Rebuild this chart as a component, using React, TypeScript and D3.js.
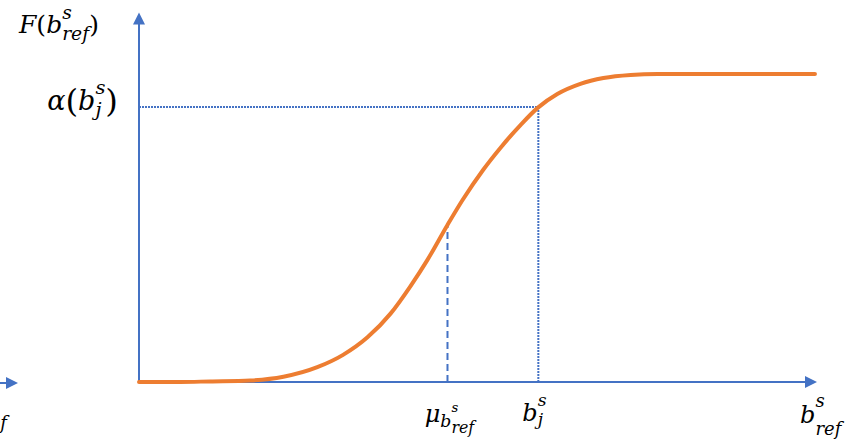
import React, { useEffect, useRef } from "react";
import * as d3 from "d3";

const W = 856;
const H = 441;

// Cumulative distribution F(b_ref^s), sampled along the S-curve
const bRef = [0, 0.61, 1.05, 1.64, 2.13, 2.63, 3.01, 3.37, 3.71, 4.0, 4.25, 4.55, 4.77, 5.08, 5.33, 5.63, 5.88, 6.17, 6.51, 6.85, 7.25, 7.65, 9.97];
const cdf = [0, 0, 0.002, 0.005, 0.017, 0.048, 0.088, 0.145, 0.222, 0.31, 0.395, 0.51, 0.59, 0.69, 0.76, 0.835, 0.89, 0.935, 0.968, 0.987, 0.997, 1, 1];

// Reference points: the mean and the observed b_j^s with its level α
const muValue = 4.55;
const muLevel = 0.51;
const bjValue = 5.89;
const alphaLevel = 0.893;

// Axis extents
const xMax = 10;
const yMax = 1.2;

const BLUE = "#4472C4";
const ORANGE = "#ED7D31";
const FONT = "'DejaVu Serif', 'Liberation Serif', serif";

type Atom = { t: string; it?: boolean; s?: number; dy?: number; stack?: boolean };

// Math-style labels: base glyphs with super/subscripts
const labelF: Atom[] = [
  { t: "F", it: true },
  { t: "(" },
  { t: "b", it: true },
  { t: "s", it: true, s: 0.75, dy: -0.55 },
  { t: "ref", it: true, s: 0.75, dy: 0.28, stack: true },
  { t: ")" },
];
const labelAlpha: Atom[] = [
  { t: "α", it: true },
  { t: "(", s: 1.2, dy: 0.07 },
  { t: "b", it: true },
  { t: "s", it: true, s: 0.72, dy: -0.6 },
  { t: "j", it: true, s: 0.72, dy: 0.22, stack: true },
  { t: ")", s: 1.2, dy: 0.07 },
];
const labelMu: Atom[] = [
  { t: "μ", it: true },
  { t: "b", it: true, s: 0.72, dy: 0.22 },
  { t: "s", it: true, s: 0.55, dy: -0.42 },
  { t: "ref", it: true, s: 0.66, dy: 0.47, stack: true },
];
const labelBj: Atom[] = [
  { t: "b", it: true },
  { t: "s", it: true, s: 0.72, dy: -0.62 },
  { t: "j", it: true, s: 0.72, dy: 0.15, stack: true },
];
const labelBref: Atom[] = [
  { t: "b", it: true },
  { t: "s", it: true, s: 0.75, dy: -0.65 },
  { t: "ref", it: true, s: 0.75, dy: 0.5, stack: true },
];

function drawLabel(
  parent: d3.Selection<SVGGElement, unknown, null, undefined>,
  atoms: Atom[],
  size: number,
  x: number,
  baseline: number,
  anchor: "start" | "middle" | "end"
) {
  const g = parent.append("g");
  let cursor = 0;
  let prevStart = 0;
  atoms.forEach((a) => {
    const start = a.stack ? prevStart : cursor;
    const txt = g
      .append("text")
      .attr("x", start)
      .attr("y", (a.dy ?? 0) * size)
      .attr("font-family", FONT)
      .attr("font-style", a.it ? "italic" : "normal")
      .attr("font-size", (a.s ?? 1) * size)
      .attr("fill", "#000")
      .text(a.t);
    const w = (txt.node() as SVGTextElement).getComputedTextLength();
    const end = start + w;
    cursor = a.stack ? Math.max(cursor, end) : end;
    prevStart = start;
  });
  const shift = anchor === "start" ? 0 : anchor === "middle" ? cursor / 2 : cursor;
  g.attr("transform", `translate(${x - shift},${baseline})`);
}

export default function App() {
  const ref = useRef<SVGSVGElement>(null);

  useEffect(() => {
    const svg = d3.select(ref.current);
    svg.selectAll("*").remove();
    const root = svg.append("g") as d3.Selection<SVGGElement, unknown, null, undefined>;

    const x = d3.scaleLinear().domain([0, xMax]).range([139, 817]);
    const y = d3.scaleLinear().domain([0, 1]).range([382, 74]);

    const x0 = x(0);
    const y0 = y(0);

    // Guide lines
    root
      .append("line")
      .attr("x1", x(muValue))
      .attr("x2", x(muValue))
      .attr("y1", y0)
      .attr("y2", y(muLevel))
      .attr("stroke", BLUE)
      .attr("stroke-width", 2)
      .attr("stroke-dasharray", "7 4");
    root
      .append("line")
      .attr("x1", x(bjValue))
      .attr("x2", x(bjValue))
      .attr("y1", y0)
      .attr("y2", y(alphaLevel))
      .attr("stroke", BLUE)
      .attr("stroke-width", 2)
      .attr("stroke-dasharray", "2 1");
    root
      .append("line")
      .attr("x1", x0)
      .attr("x2", x(bjValue))
      .attr("y1", y(alphaLevel))
      .attr("y2", y(alphaLevel))
      .attr("stroke", BLUE)
      .attr("stroke-width", 2)
      .attr("stroke-dasharray", "2 1");

    // Axes with arrowheads
    const head = 12;
    const half = 6;
    const yTop = y(yMax);
    const xEnd = x(xMax);
    root
      .append("line")
      .attr("x1", x0)
      .attr("x2", x0)
      .attr("y1", y0 + 1)
      .attr("y2", yTop + head - 1)
      .attr("stroke", BLUE)
      .attr("stroke-width", 2);
    root
      .append("path")
      .attr("d", `M${x0},${yTop}L${x0 - half},${yTop + head}L${x0 + half},${yTop + head}Z`)
      .attr("fill", BLUE);
    root
      .append("line")
      .attr("x1", x0 - 1)
      .attr("x2", xEnd - head + 1)
      .attr("y1", y0)
      .attr("y2", y0)
      .attr("stroke", BLUE)
      .attr("stroke-width", 2);
    root
      .append("path")
      .attr("d", `M${xEnd},${y0}L${xEnd - head},${y0 - half}L${xEnd - head},${y0 + half}Z`)
      .attr("fill", BLUE);

    // Tail of the neighbouring panel's horizontal axis
    const leftTip = 18;
    root
      .append("line")
      .attr("x1", 0)
      .attr("x2", leftTip - head + 1)
      .attr("y1", y0 + 1)
      .attr("y2", y0 + 1)
      .attr("stroke", BLUE)
      .attr("stroke-width", 2);
    root
      .append("path")
      .attr("d", `M${leftTip},${y0 + 1}L${leftTip - head},${y0 + 1 - half}L${leftTip - head},${y0 + 1 + half}Z`)
      .attr("fill", BLUE);

    // CDF curve
    const pts: [number, number][] = bRef.map((v, i) => [v, cdf[i]]);
    const line = d3
      .line<[number, number]>()
      .x((d) => x(d[0]))
      .y((d) => y(d[1]))
      .curve(d3.curveMonotoneX);
    root
      .append("path")
      .attr("d", line(pts) as string)
      .attr("fill", "none")
      .attr("stroke", ORANGE)
      .attr("stroke-width", 4)
      .attr("stroke-linecap", "round")
      .attr("stroke-linejoin", "round");

    // Labels
    drawLabel(root, labelF, 25, 19, 33, "start");
    drawLabel(root, labelAlpha, 27, x0 - 21, y(alphaLevel) + 3, "end");
    drawLabel(root, labelMu, 24, x(muValue) + 2, y0 + 40, "middle");
    drawLabel(root, labelBj, 24, x(bjValue) - 16, y0 + 39, "start");
    drawLabel(root, labelBref, 24, xEnd - 17, y0 + 41, "start");
    drawLabel(root, labelBref, 24, 7, y0 + 35, "end");
  }, []);

  return (
    <svg
      ref={ref}
      width={W}
      height={H}
      style={{ position: "absolute", left: 0, top: 0, background: "#fff" }}
    />
  );
}
